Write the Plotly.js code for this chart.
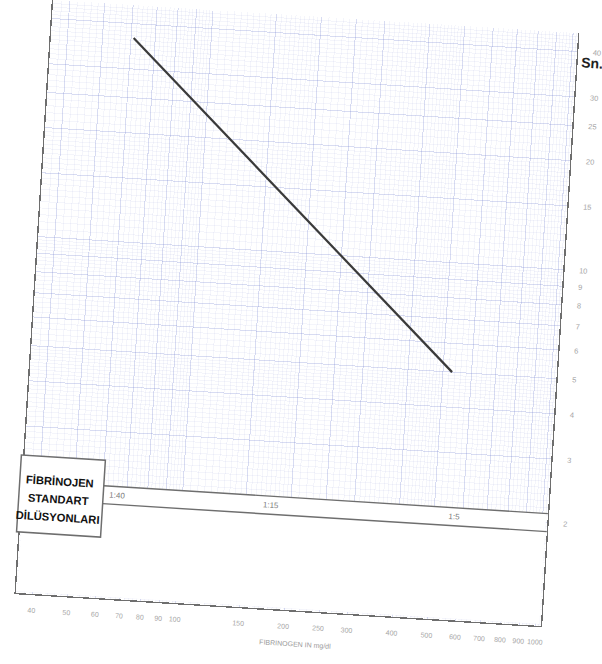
<!DOCTYPE html>
<html>
<head>
<meta charset="utf-8">
<script src="https://cdn.plot.ly/plotly-3.0.1.min.js"></script>
<style>
html,body{margin:0;padding:0;background:#fff;overflow:hidden;width:602px;height:664px}
#chart{position:absolute;left:0;top:0;width:602px;height:664px;transform:rotate(3.6deg);transform-origin:297px 313px}
</style>
</head>
<body>
<div id="chart"></div>
<script>
// ---- data ----
const fibrinogen = [61, 530];          // mg/dl (x)
const clotTime = [36.5, 5.0];          // seconds (y)
const dilutionLabels = ['1:40', '1:15', '1:5'];
const dilutionFibrinogen = [66, 176, 572];
const xTickVals = [40, 50, 60, 70, 80, 90, 100, 150, 200, 250, 300, 400, 500, 600, 700, 800, 900, 1000];
const yTickVals = [2, 3, 4, 5, 6, 7, 8, 9, 10, 15, 20, 25, 30, 40];
const boxLines = ['FİBRİNOJEN', 'STANDART', 'DİLÜSYONLARI'];
const xTitle = 'FIBRINOGEN IN mg/dl';
const yTitle = 'Sn.';

// ---- graph-paper minor grid (styling) ----
function steps(a, b, s) { const out = []; for (let v = a; v <= b + 1e-9; v += s) out.push(+v.toFixed(3)); return out; }
const xMinor = [].concat(steps(36, 100, 2), steps(105, 200, 5), steps(210, 500, 10), steps(520, 1040, 20));
const yMinor = [].concat(steps(1.05, 2, 0.05), steps(2.1, 5, 0.1), steps(5.2, 10, 0.2), steps(10.5, 20, 0.5), steps(21, 45, 1));

const grey = '#6e6e6e';
const fontFam = 'Liberation Sans, Arial, sans-serif';

const trace = {
  x: fibrinogen, y: clotTime, type: 'scatter', mode: 'lines',
  line: { color: '#3a3a3a', width: 2.2 }, hoverinfo: 'skip', showlegend: false
};

const annotations = [];
const boxY = [0.1919, 0.1616, 0.1313];
boxLines.forEach((t, i) => annotations.push({
  text: '<b>' + t + '</b>', xref: 'paper', yref: 'paper', x: 0.0703, y: boxY[i],
  showarrow: false, xanchor: 'center', yanchor: 'middle',
  font: { family: fontFam, size: 11.2, color: '#111' }
}));
dilutionLabels.forEach((t, i) => annotations.push({
  text: t, xref: 'x', yref: 'paper', x: Math.log10(dilutionFibrinogen[i]), y: 0.1742,
  showarrow: false, xanchor: 'center', yanchor: 'middle',
  font: { family: fontFam, size: 8, color: '#7a7a7a' }
}));
annotations.push({
  text: '<b>' + yTitle + '</b>', xref: 'paper', yref: 'paper', x: 1.0304, y: 0.951,
  showarrow: false, xanchor: 'center', yanchor: 'middle',
  font: { family: fontFam, size: 14, color: '#222' }
});
annotations.push({
  text: xTitle, xref: 'paper', yref: 'paper', x: 0.536, y: -0.0572,
  showarrow: false, xanchor: 'center', yanchor: 'middle',
  font: { family: fontFam, size: 7, color: '#9a9a9a' }
});

const shapes = [
  // blank area below the graph paper (dilution strip and under it)
  { type: 'rect', xref: 'paper', yref: 'paper', x0: 0.003, x1: 0.997, y0: 0.003, y1: 0.1894,
    fillcolor: '#ffffff', line: { width: 0 }, layer: 'above' },
  // dilution strip lines
  { type: 'line', xref: 'paper', yref: 'paper', x0: 0.154, x1: 1, y0: 0.1894, y1: 0.1894,
    line: { color: grey, width: 1.4 }, layer: 'above' },
  { type: 'line', xref: 'paper', yref: 'paper', x0: 0.154, x1: 1, y0: 0.1591, y1: 0.1591,
    line: { color: grey, width: 1.4 }, layer: 'above' },
  // label box
  { type: 'rect', xref: 'paper', yref: 'paper', x0: -0.006, x1: 0.154, y0: 0.1027, y1: 0.2323,
    fillcolor: '#ffffff', line: { color: grey, width: 1.5 }, layer: 'above' }
];

const layout = {
  width: 602, height: 664,
  margin: { l: 34, r: 42, t: 16, b: 54, pad: 0 },
  paper_bgcolor: '#ffffff', plot_bgcolor: '#ffffff',
  showlegend: false,
  font: { family: fontFam },
  xaxis: {
    type: 'log', range: [Math.log10(35.98), Math.log10(1032.5)],
    tickmode: 'array', tickvals: xTickVals, ticktext: xTickVals.map(String),
    tickfont: { family: fontFam, size: 7, color: '#a5a5a5' }, tickangle: 0,
    ticks: 'outside', ticklen: 9, tickcolor: 'rgba(0,0,0,0)',
    showgrid: true, gridcolor: 'rgba(120,130,210,0.22)', gridwidth: 1,
    minor: { tickmode: 'array', tickvals: xMinor, showgrid: true, gridcolor: 'rgba(130,140,215,0.09)', gridwidth: 1, ticks: '' },
    showline: true, linecolor: grey, linewidth: 1.4, mirror: false,
    zeroline: false, fixedrange: true
  },
  yaxis: {
    type: 'log', side: 'right', range: [Math.log10(1.0387), Math.log10(44.97)],
    tickmode: 'array', tickvals: yTickVals, ticktext: yTickVals.map(String),
    tickfont: { family: fontFam, size: 7.5, color: '#a5a5a5' },
    ticks: 'outside', ticklen: 13, tickcolor: 'rgba(0,0,0,0)',
    showgrid: true, gridcolor: 'rgba(120,130,210,0.22)', gridwidth: 1,
    minor: { tickmode: 'array', tickvals: yMinor, showgrid: true, gridcolor: 'rgba(130,140,215,0.09)', gridwidth: 1, ticks: '' },
    showline: true, linecolor: grey, linewidth: 1.4, mirror: true,
    zeroline: false, fixedrange: true
  },
  annotations: annotations,
  shapes: shapes
};

Plotly.newPlot('chart', [trace], layout, { staticPlot: true, displayModeBar: false });
</script>
</body>
</html>
